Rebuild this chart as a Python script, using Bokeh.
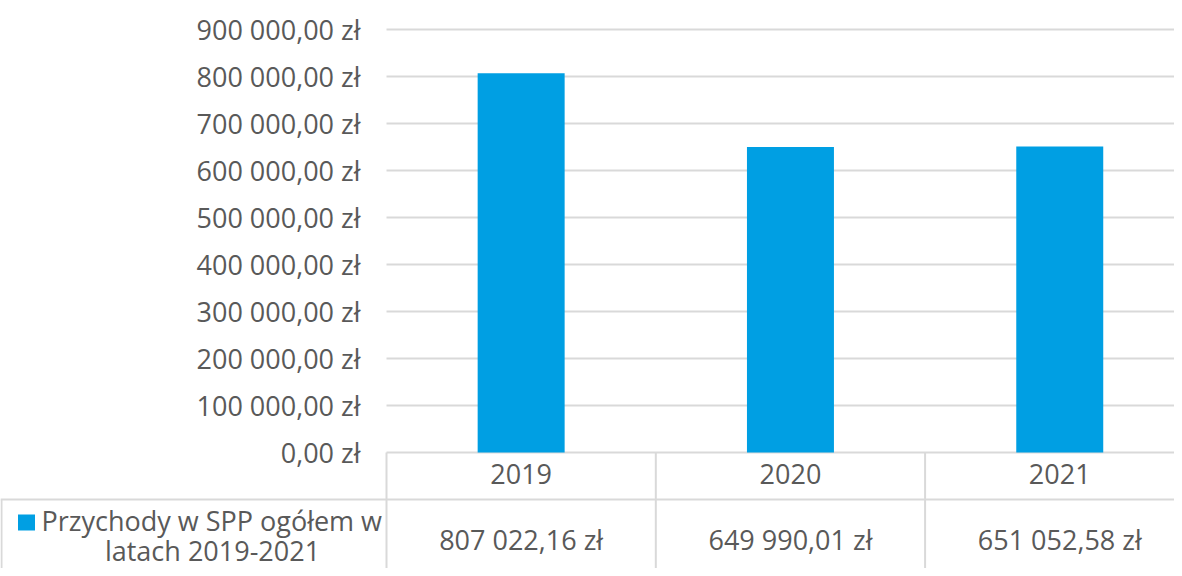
from bokeh.plotting import figure
from bokeh.models import Range1d
from bokeh.core.properties import value
from bokeh.embed import file_html
from bokeh.resources import INLINE

# ---- data ----
years = ["2019", "2020", "2021"]
revenue = [807022.16, 649990.01, 651052.58]
value_labels = ["807 022,16 zł", "649 990,01 zł", "651 052,58 zł"]
series_name_lines = ["Przychody w SPP ogółem w", "latach 2019-2021"]
tick_values = [0, 100000, 200000, 300000, 400000, 500000, 600000, 700000, 800000, 900000]
tick_labels = ["0,00 zł", "100 000,00 zł", "200 000,00 zł", "300 000,00 zł", "400 000,00 zł",
               "500 000,00 zł", "600 000,00 zł", "700 000,00 zł", "800 000,00 zł", "900 000,00 zł"]

# ---- layout (pixels) ----
W, H = 1174, 568
CAT_PX = 269.3          # width of one category in px
X0_PX = 386             # px of category-axis start
Y0_PX = 452             # px of value 0 (from top)
PX_PER_UNIT = 0.00047   # px per zł

def fx(px):
    return (px - X0_PX) / CAT_PX

def fy(py):
    return (Y0_PX - py) / PX_PER_UNIT

FONT = value("Open Sans")
FS = "27px"
TXT = "#595959"
GRID = "#d9d9d9"
BAR = "#009FE3"

p = figure(width=W, height=H, output_backend="svg", toolbar_location=None,
           x_range=Range1d(fx(0), fx(W)), y_range=Range1d(fy(H), fy(0)),
           min_border=0, min_border_left=0, min_border_right=0,
           min_border_top=0, min_border_bottom=0)
p.axis.visible = False
p.grid.visible = False
p.outline_line_color = None
p.background_fill_color = "white"
p.border_fill_color = "white"

x_end = fx(W + 20)
n = len(years)
centers = [i + 0.5 for i in range(n)]

# gridlines (including axis line at 0)
p.segment(x0=[0] * len(tick_values), x1=[x_end] * len(tick_values),
          y0=tick_values, y1=tick_values, line_color=GRID, line_width=2)

# bars
p.vbar(x=centers, top=revenue, bottom=0, width=0.323, fill_color=BAR, line_color=None)

# y tick labels
p.text(x=[fx(360)] * len(tick_values), y=tick_values, text=tick_labels,
       text_font=FONT, text_font_size=FS, text_color=TXT,
       text_align="right", text_baseline="middle")

# data table lines
row_y = fy(499)
bottom_y = fy(H + 10)
p.segment(x0=[0, 1, 2], x1=[0, 1, 2], y0=[0, 0, 0], y1=[bottom_y] * 3,
          line_color=GRID, line_width=2)
p.segment(x0=[fx(0)], x1=[x_end], y0=[row_y], y1=[row_y], line_color=GRID, line_width=2)
p.segment(x0=[fx(1)], x1=[fx(1)], y0=[row_y], y1=[bottom_y], line_color=GRID, line_width=2)

# table: year row
p.text(x=centers, y=[fy(473)] * n, text=years, text_font=FONT, text_font_size=FS,
       text_color=TXT, text_align="center", text_baseline="middle")
# table: value row
p.text(x=centers, y=[fy(539)] * n, text=value_labels, text_font=FONT, text_font_size=FS,
       text_color=TXT, text_align="center", text_baseline="middle")

# series label + legend key
p.rect(x=[fx(26)], y=[fy(522)], width=17 / CAT_PX, height=16 / PX_PER_UNIT,
       fill_color=BAR, line_color=None)
p.text(x=[fx(41)], y=[fy(520)], text=[series_name_lines[0]], text_font=FONT, text_font_size=FS,
       text_color=TXT, text_align="left", text_baseline="middle")
p.text(x=[fx(212)], y=[fy(550)], text=[series_name_lines[1]], text_font=FONT, text_font_size=FS,
       text_color=TXT, text_align="center", text_baseline="middle")

open("out.html", "w").write(file_html(p, INLINE))
